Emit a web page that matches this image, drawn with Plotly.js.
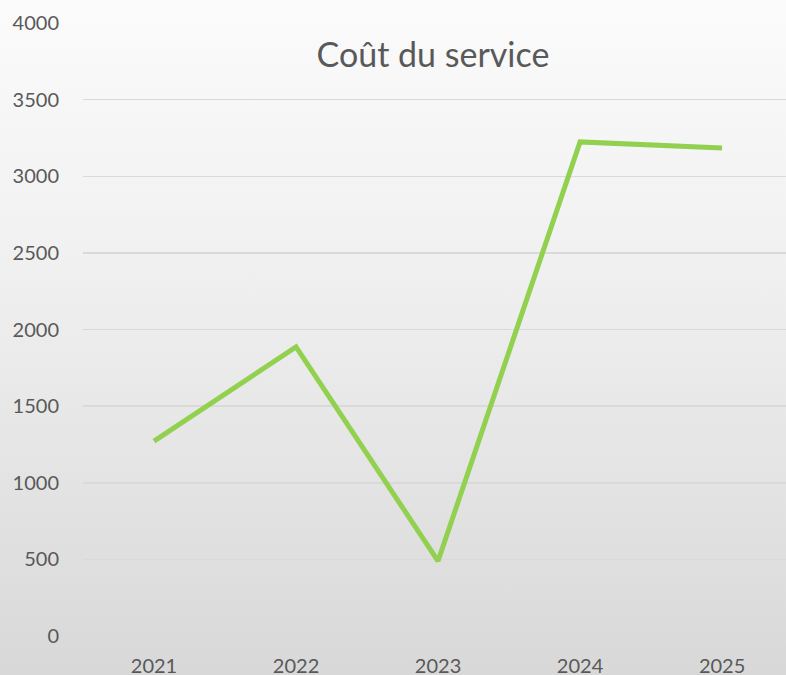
<!DOCTYPE html>
<html>
<head>
<meta charset="utf-8">
<script src="https://cdn.plot.ly/plotly-3.0.1.min.js"></script>
<style>
html, body { margin:0; padding:0; }
body { width:786px; height:675px; overflow:hidden; background: linear-gradient(to bottom, #fbfbfb 0%, #f0f0f0 40%, #d8d8d8 100%); }
#chart { width:786px; height:675px; }
</style>
</head>
<body>
<div id="chart"></div>
<script>
const years = ['2021', '2022', '2023', '2024', '2025'];
const costs = [1272, 1886, 489, 3224, 3184];
const yTicks = [0, 500, 1000, 1500, 2000, 2500, 3000, 3500, 4000];
const chartTitle = 'Coût du service';

const trace = {
  x: years,
  y: costs,
  type: 'scatter',
  mode: 'lines',
  line: { color: '#92d050', width: 5 },
  hoverinfo: 'x+y'
};

const layout = {
  width: 786,
  height: 675,
  paper_bgcolor: 'rgba(0,0,0,0)',
  plot_bgcolor: 'rgba(0,0,0,0)',
  margin: { l: 83, r: 0, t: 23, b: 39 },
  showlegend: false,
  font: { family: 'Lato, "Open Sans", sans-serif', color: '#595959' },
  title: {
    text: chartTitle,
    font: { family: 'Lato, "Open Sans", sans-serif', size: 34, color: '#595959' },
    x: 433 / 786, xanchor: 'center',
    y: 1 - 55 / 675, yanchor: 'middle'
  },
  xaxis: {
    type: 'category',
    range: [-0.5, 4.45],
    showgrid: false,
    zeroline: false,
    showline: false,
    ticks: 'outside',
    ticklen: 12,
    tickcolor: 'rgba(0,0,0,0)',
    tickfont: { size: 20, color: '#595959' }
  },
  yaxis: {
    range: [0, 4000],
    tickvals: yTicks,
    ticktext: yTicks.map(String),
    showgrid: true,
    gridcolor: '#d9d9d9',
    gridwidth: 1.5,
    zeroline: false,
    showline: false,
    ticks: 'outside',
    ticklen: 19,
    tickcolor: 'rgba(0,0,0,0)',
    tickfont: { size: 20, color: '#595959' }
  }
};

Plotly.newPlot('chart', [trace], layout, { displayModeBar: false, staticPlot: true });
</script>
</body>
</html>
